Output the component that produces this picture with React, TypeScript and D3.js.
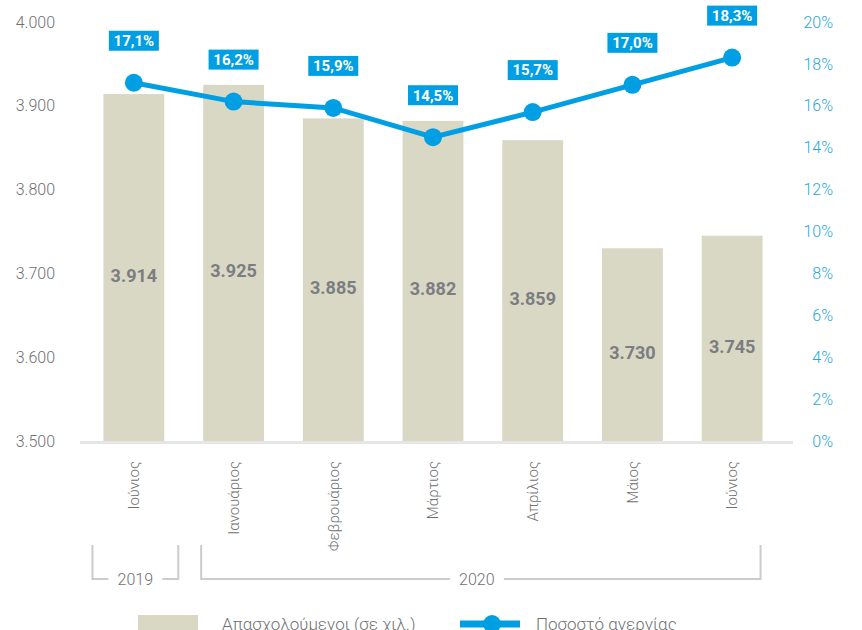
import React, { useRef, useEffect } from "react";
import * as d3 from "d3";

// data
const months = ["Ιούνιος", "Ιανουάριος", "Φεβρουάριος", "Μάρτιος", "Απρίλιος", "Μάιος", "Ιούνιος"];
const employed = [3914, 3925, 3885, 3882, 3859, 3730, 3745];
const unemployment = [17.1, 16.2, 15.9, 14.5, 15.7, 17.0, 18.3];
const leftTicks = [3500, 3600, 3700, 3800, 3900, 4000];
const rightTicks = [0, 2, 4, 6, 8, 10, 12, 14, 16, 18, 20];
const years = [
  { label: "2019", from: 0, to: 0 },
  { label: "2020", from: 1, to: 6 },
];
const legendBar = "Απασχολούμενοι (σε χιλ.)";
const legendLine = "Ποσοστό ανεργίας";

const W = 862;
const H = 630;
const BLUE = "#009fe3";
const BAR = "#d9d8c5";
const GREY = "#6f7073";
const FONT = "Roboto, 'DejaVu Sans', sans-serif";

const fmtThousands = (v: number) => d3.format(",")(v).replace(",", ".");
const fmtPct = (v: number) => v.toFixed(1).replace(".", ",") + "%";

const App = () => {
  const svgRef = useRef<SVGSVGElement>(null);

  useEffect(() => {
    const svg = d3.select(svgRef.current);
    svg.selectAll("*").remove();
    svg.style("font-family", FONT);

    const top = 22;
    const bottom = 441;

    const x = d3.scaleBand<number>()
      .domain(d3.range(months.length))
      .range([84, 782])
      .paddingInner(0.39)
      .paddingOuter(0.195);
    const yL = d3.scaleLinear().domain([3500, 4000]).range([bottom, top]);
    const yR = d3.scaleLinear().domain([0, 20]).range([bottom, top]);
    const cx = (i: number) => x(i)! + x.bandwidth() / 2;

    // left axis labels
    svg.append("g").selectAll("text")
      .data(leftTicks)
      .join("text")
      .attr("x", 55)
      .attr("y", d => yL(d))
      .attr("dy", "0.35em")
      .attr("text-anchor", "end")
      .attr("fill", GREY)
      .attr("font-size", 16)
      .attr("font-weight", 300)
      .text(d => fmtThousands(d));

    // right axis labels
    svg.append("g").selectAll("text")
      .data(rightTicks)
      .join("text")
      .attr("x", 833)
      .attr("y", d => yR(d))
      .attr("dy", "0.35em")
      .attr("text-anchor", "end")
      .attr("fill", "#1fa8e1")
      .attr("font-size", 16)
      .attr("font-weight", 300)
      .text(d => d + "%");

    // bars
    svg.append("g").selectAll("rect")
      .data(employed)
      .join("rect")
      .attr("x", (d, i) => x(i)!)
      .attr("y", d => yL(d))
      .attr("width", x.bandwidth())
      .attr("height", d => bottom - yL(d))
      .attr("fill", BAR);

    // bar value labels
    svg.append("g").selectAll("text")
      .data(employed)
      .join("text")
      .attr("x", (d, i) => cx(i))
      .attr("y", d => (yL(d) + bottom) / 2 + 8)
      .attr("dy", "0.35em")
      .attr("text-anchor", "middle")
      .attr("fill", "#7c7d80")
      .attr("font-size", 18)
      .attr("font-weight", 700)
      .text(d => fmtThousands(d));

    // baseline
    svg.append("line")
      .attr("x1", 80).attr("x2", 793)
      .attr("y1", bottom + 1.5).attr("y2", bottom + 1.5)
      .attr("stroke", "#e6e6e6")
      .attr("stroke-width", 3);

    // unemployment line
    const line = d3.line<number>()
      .x((d, i) => cx(i))
      .y(d => yR(d));
    svg.append("path")
      .datum(unemployment)
      .attr("d", line)
      .attr("fill", "none")
      .attr("stroke", BLUE)
      .attr("stroke-width", 5);
    svg.append("g").selectAll("circle")
      .data(unemployment)
      .join("circle")
      .attr("cx", (d, i) => cx(i))
      .attr("cy", d => yR(d))
      .attr("r", 9)
      .attr("fill", BLUE);

    // value boxes
    const lbl = svg.append("g").selectAll("g")
      .data(unemployment)
      .join("g")
      .attr("transform", (d, i) => `translate(${cx(i)},${yR(d) - 42})`);
    lbl.append("rect")
      .attr("x", -25).attr("y", -10)
      .attr("width", 50).attr("height", 20)
      .attr("fill", BLUE);
    lbl.append("text")
      .attr("text-anchor", "middle")
      .attr("dy", "0.36em")
      .attr("fill", "#fff")
      .attr("font-size", 15)
      .attr("font-weight", 700)
      .text(d => fmtPct(d));

    // month labels
    svg.append("g").selectAll("text")
      .data(months)
      .join("text")
      .attr("transform", (d, i) => `translate(${cx(i)},461) rotate(-90)`)
      .attr("text-anchor", "end")
      .attr("dy", "0.35em")
      .attr("fill", GREY)
      .attr("font-size", 15)
      .attr("font-weight", 300)
      .text(d => d);

    // year brackets
    const by1 = 545, by2 = 579;
    const bracketPad = [[-11, 14], [-2, -2]];
    years.forEach((yr, k) => {
      const x0 = x(yr.from)! + bracketPad[k][0];
      const x1 = x(yr.to)! + x.bandwidth() + bracketPad[k][1];
      const mid = (x0 + x1) / 2 - (k === 1 ? 4 : 0);
      const g = svg.append("g");
      g.append("text")
        .attr("x", mid).attr("y", by2)
        .attr("dy", "0.35em")
        .attr("text-anchor", "middle")
        .attr("fill", GREY)
        .attr("font-size", 16)
        .attr("font-weight", 300)
        .text(yr.label);
      const gap = 27;
      g.append("path")
        .attr("d", `M${x0},${by1}V${by2}H${mid - gap}M${mid + gap},${by2}H${x1}V${by1}`)
        .attr("fill", "none")
        .attr("stroke", "#cccccc")
        .attr("stroke-width", 2);
    });

    // legend
    const ly = 624;
    svg.append("rect")
      .attr("x", 138).attr("y", 615)
      .attr("width", 60).attr("height", 18)
      .attr("fill", BAR);
    svg.append("text")
      .attr("x", 222).attr("y", ly)
      .attr("dy", "0.35em")
      .attr("fill", GREY)
      .attr("font-size", 17)
      .attr("font-weight", 300)
      .text(legendBar);
    svg.append("line")
      .attr("x1", 460).attr("x2", 520)
      .attr("y1", ly).attr("y2", ly)
      .attr("stroke", BLUE)
      .attr("stroke-width", 7);
    svg.append("circle")
      .attr("cx", 492).attr("cy", ly)
      .attr("r", 9)
      .attr("fill", BLUE);
    svg.append("text")
      .attr("x", 536).attr("y", ly)
      .attr("dy", "0.35em")
      .attr("fill", GREY)
      .attr("font-size", 17)
      .attr("font-weight", 300)
      .text(legendLine);
  }, []);

  return (
    <svg
      ref={svgRef}
      width={W}
      height={H}
      style={{ position: "absolute", left: 0, top: 0, background: "#fff" }}
    />
  );
};

export default App;
